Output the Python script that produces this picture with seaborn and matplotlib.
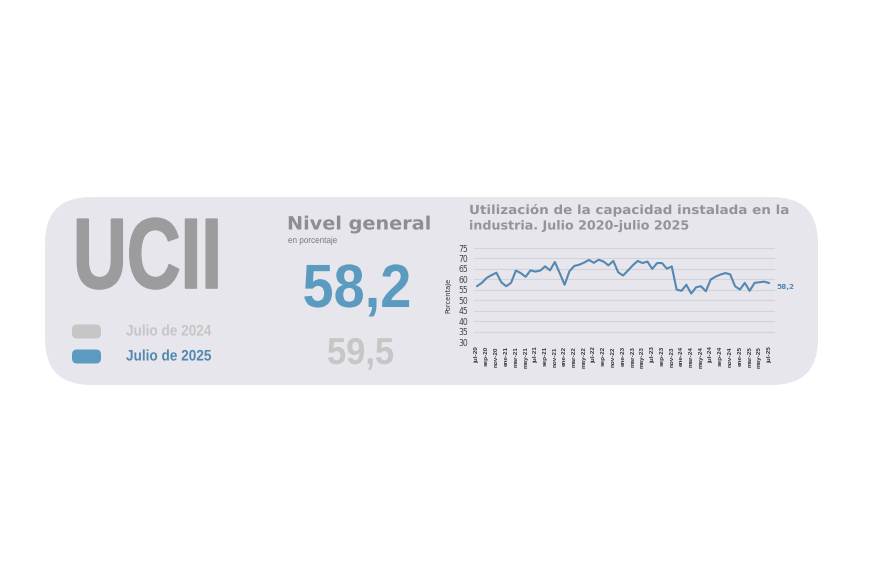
import matplotlib
matplotlib.use("Agg")
import matplotlib.pyplot as plt
from matplotlib.patches import FancyBboxPatch
from matplotlib.patheffects import AbstractPathEffect
from matplotlib.transforms import Affine2D
import numpy as np
import pandas as pd
import seaborn as sns

months = ["jul","ago","sep","oct","nov","dic","ene","feb","mar","abr","may","jun"]
utilizacion = [56.7,58.3,60.7,62.0,63.2,58.6,56.7,58.3,64.2,63.0,61.2,64.3,63.7,64.2,66.2,64.3,
               68.3,63.0,57.4,63.9,66.4,67.0,68.0,69.3,67.9,69.4,68.5,66.7,68.8,63.4,61.8,64.2,
               66.7,68.8,67.8,68.5,65.0,67.8,67.8,65.1,66.2,55.1,54.5,57.4,53.2,56.2,56.7,54.3,
               59.9,61.3,62.3,63.0,62.4,56.7,55.1,58.3,54.5,58.3,58.6,58.9,58.2]
y_ticks = [30,35,40,45,50,55,60,65,70,75]
titulo_1 = "Utilización de la capacidad instalada en la"
titulo_2 = "industria. Julio 2020-julio 2025"
valor_2025 = "58,2"
valor_2024 = "59,5"
etiqueta_final = "58,2"
leyenda = ["Julio de 2024", "Julio de 2025"]

labels = []
for i in range(len(utilizacion)):
    m = months[i % 12]
    yy = 20 + (i + 6) // 12
    labels.append(f"{m}-{yy}")
df = pd.DataFrame({"mes": np.arange(len(utilizacion)), "valor": utilizacion})

BLUE = "#5B9BBF"
LINE = "#5488B2"
LGREY = "#C6C6C6"
DGREY = "#9C9C9E"
PANEL = "#E6E6EC"
W, H = 870, 580
SANS = "Liberation Sans"


class StretchX(AbstractPathEffect):
    """Draw real text squeezed or stretched horizontally around a pixel x."""
    def __init__(self, sx, x0_px, stroke=0):
        super().__init__()
        self.sx, self.x0, self.stroke = sx, x0_px, stroke

    def draw_path(self, renderer, gc, tpath, affine, rgbFace=None):
        t = affine + Affine2D().translate(-self.x0, 0).scale(self.sx, 1).translate(self.x0, 0)
        gc0 = renderer.new_gc()
        gc0.copy_properties(gc)
        if self.stroke:
            gc0.set_linewidth(self.stroke)
            gc0.set_foreground(rgbFace)
        renderer.draw_path(gc0, tpath, t, rgbFace)
        gc0.restore()


def stext(ax, x, y, s, sx, stroke=0, **kw):
    t = ax.text(x, y, s, **kw)
    t.set_path_effects([StretchX(sx, x, stroke)])
    return t


sns.set_theme(style="white")
fig = plt.figure(figsize=(8.7, 5.8), dpi=100, facecolor="white")

bg = fig.add_axes([0, 0, 1, 1])
bg.set_xlim(0, W); bg.set_ylim(H, 0); bg.axis("off")
R = 46
bg.add_patch(FancyBboxPatch((45 + R, 197 + R), 773 - 2*R, 188 - 2*R,
                            boxstyle=f"round,pad={R},rounding_size={R}", fc=PANEL, ec="none"))
for y, c in [(331.5, LGREY), (356.5, BLUE)]:
    bg.add_patch(FancyBboxPatch((75.5, y - 3.5), 22, 7, boxstyle="round,pad=3.5,rounding_size=5", fc=c, ec="none"))

stext(bg, 73, 288, "UCII", 0.745, stroke=1.2, family=SANS, weight="bold", fontsize=72, color=DGREY, va="baseline", ha="left")
stext(bg, 126, 331.5, leyenda[0], 0.89, family=SANS, weight="bold", fontsize=11, color=LGREY, va="center")
stext(bg, 126, 356.5, leyenda[1], 0.89, family=SANS, weight="bold", fontsize=11, color=LINE, va="center")
stext(bg, 287, 224.5, "Nivel general", 1.05, family="DejaVu Sans", weight="bold", fontsize=13.2, color="#8E8E90", va="center")
stext(bg, 288, 240.5, "en porcentaje", 0.9, family=SANS, fontsize=6.5, color="#77777A", va="center")
stext(bg, 357, 307, valor_2025, 0.915, family=SANS, weight="bold", fontsize=44, color=BLUE, ha="center", va="baseline")
stext(bg, 360.5, 364, valor_2024, 0.92, family=SANS, weight="bold", fontsize=27, color=LGREY, ha="center", va="baseline")
stext(bg, 469, 210.5, titulo_1, 1.08, family="DejaVu Sans", weight="bold", fontsize=9, color="#949496", va="center")
stext(bg, 469, 226, titulo_2, 1.015, family="DejaVu Sans", weight="bold", fontsize=9, color="#949496", va="center")

left, right, top, bottom = 474, 775, 248, 342
ax = fig.add_axes([left/W, 1 - bottom/H, (right-left)/W, (bottom-top)/H])
ax.patch.set_alpha(0)
sns.lineplot(data=df, x="mes", y="valor", ax=ax, color=LINE, lw=1.5, zorder=3)
ax.set_xlim(-0.6, 61.2)
ax.set_ylim(30, 75)
ax.set_yticks(y_ticks)
ax.set_xticks(df["mes"][::2])
ax.set_xticklabels(labels[::2], rotation=90, fontsize=4.6, color="#3A3A3A", family=SANS, weight="bold")
ax.tick_params(axis="y", labelsize=5.5, colors="#444444", length=0, pad=4)
ax.tick_params(axis="x", length=0, pad=3)
ax.yaxis.grid(True, color="#D3D3D8", lw=0.8)
ax.xaxis.grid(False)
sns.despine(ax=ax, left=True, bottom=True)
ax.set_xlabel("")
ax.set_ylabel("Porcentaje", fontsize=4.8, color="#333333", labelpad=5)
ax.annotate(etiqueta_final, (df["mes"].iloc[-1], utilizacion[-1]), xytext=(5, -3), textcoords="offset points",
            fontsize=5.2, color=LINE, weight="bold", va="center", annotation_clip=False)

fig.savefig("out.png", dpi=100, facecolor="white")
